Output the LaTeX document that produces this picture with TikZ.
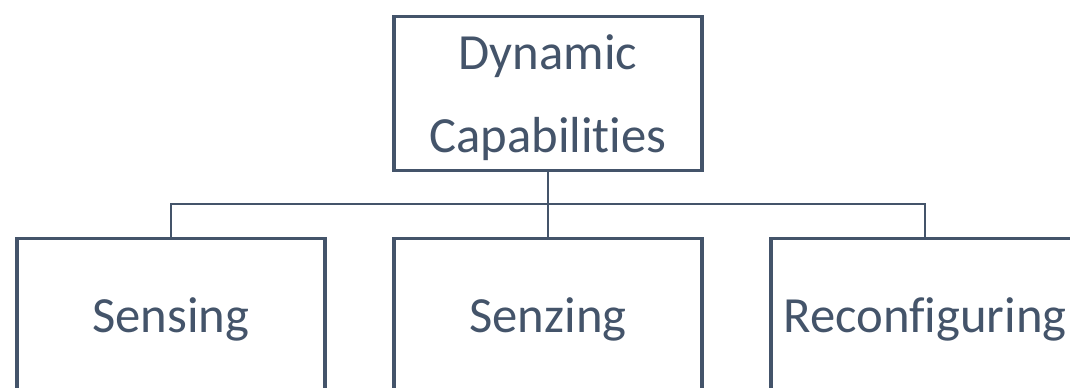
\documentclass[tikz,border=0pt]{standalone}
\usepackage{fontspec}
\setmainfont[Ligatures=NoCommon]{Carlito}
\definecolor{slate}{HTML}{44546A}
\begin{document}
\begin{tikzpicture}[x=0.75pt,y=-0.75pt,
  box/.style={draw=slate,line width=2.6pt,minimum width=231pt,minimum height=115.5pt,inner sep=0pt},
  lbl/.style={text=slate,align=center,inner sep=0pt,font=\fontsize{38}{62}\selectfont},
  conn/.style={draw=slate,line width=1.6pt}]
\useasboundingbox (0,0) rectangle (1070,387);
\clip (0,0) rectangle (1070,387);
\node[box] (top) at (548,93.5) {};
\node[box] (s1) at (171,315.5) {};
\node[box] (s2) at (548,315.5) {};
\node[box] (s3) at (925,315.5) {};
\node[lbl,anchor=base] (t1) at (548,69) {Dynamic};
\node[lbl,anchor=base] (t2) at (548,152) {Capabilit\kern0pt ies};
\node[lbl,anchor=base] (l1) at (171,332) {Sensing};
\node[lbl,anchor=base] (l2) at (548,332) {Senzing};
\node[lbl,anchor=base] (l3) at (925,332) {Reconf\kern0pt iguring};
\coordinate (mid) at (548,204);
\draw[conn] (top.south) -- (mid) -- (s2.north);
\draw[conn] (s1.north) |- (mid) -| (s3.north);
\end{tikzpicture}
\end{document}
